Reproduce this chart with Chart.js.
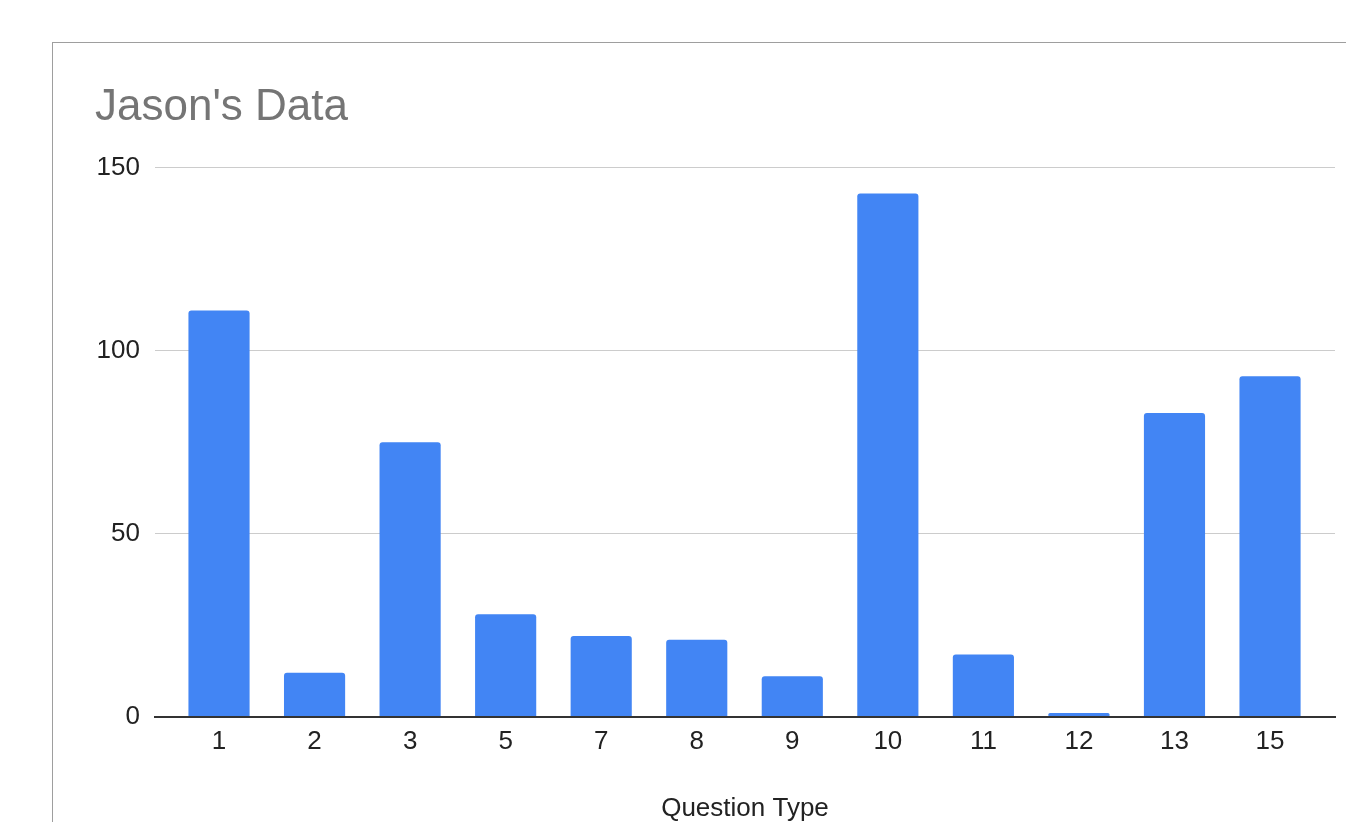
<!DOCTYPE html>
<html>
<head>
<meta charset="utf-8">
<title>Jason's Data</title>
<script src="https://cdn.jsdelivr.net/npm/chart.js@4.4.1/dist/chart.umd.min.js"></script>
<style>
  html, body { margin: 0; padding: 0; background: #fff; overflow: hidden; }
  .frame { position: absolute; left: 52px; top: 42px; width: 1400px; height: 900px;
           border: 1px solid #9e9e9e; box-sizing: border-box; pointer-events: none; }
  .wrap { position: absolute; left: 0; top: 0; width: 1346px; height: 840px; }
</style>
</head>
<body>
<div class="wrap"><canvas id="bars" role="img" aria-label="Jason's Data by question type"></canvas></div>
<div class="frame"></div>
<script>
const categories = ['1', '2', '3', '5', '7', '8', '9', '10', '11', '12', '13', '15'];
const counts     = [111, 12, 75, 28, 22, 21, 11, 143, 17, 1, 83, 93];
const yTicks     = [0, 50, 100, 150];

const FONT = "'Liberation Sans', Arial, sans-serif";

new Chart(document.getElementById('bars'), {
  type: 'bar',
  data: {
    datasets: [{
      label: 'Count',
      data: counts.map((v, i) => ({ x: i, y: v })),
      backgroundColor: '#4285f4',
      borderRadius: 3,
      borderSkipped: 'start',
      categoryPercentage: 1,
      barPercentage: 0.64,
    }]
  },
  options: {
    responsive: true, maintainAspectRatio: false, animation: false,
    layout: { padding: { left: 95, right: 11, top: 81, bottom: 16 } },
    plugins: {
      legend: { display: false },
      tooltip: { enabled: false },
      title: {
        display: true, text: "Jason's Data", align: 'start',
        color: '#757575', font: { family: FONT, size: 44, weight: 'normal' },
        padding: { top: 0, bottom: 34 }
      }
    },
    scales: {
      x: {
        type: 'linear', bounds: 'data', offset: false, min: -0.67, max: 11.68,
        afterBuildTicks: axis => { axis.ticks = categories.map((_, i) => ({ value: i })); },
        ticks: {
          autoSkip: false, maxRotation: 0, padding: 2,
          color: '#222', font: { family: FONT, size: 26 },
          callback: v => categories[v]
        },
        grid: { display: false },
        border: { display: true, color: '#333', width: 2 },
        title: {
          display: true, text: 'Question Type', color: '#222',
          font: { family: FONT, size: 26 }, padding: { top: 33, bottom: 0 }
        }
      },
      y: {
        min: 0, max: 150,
        afterBuildTicks: axis => { axis.ticks = yTicks.map(v => ({ value: v })); },
        afterFit: axis => { axis.width = 60; },
        ticks: { padding: 15, color: '#222', font: { family: FONT, size: 26 } },
        grid: { color: '#cccccc', drawTicks: false },
        border: { display: false }
      }
    }
  }
});
</script>
</body>
</html>
